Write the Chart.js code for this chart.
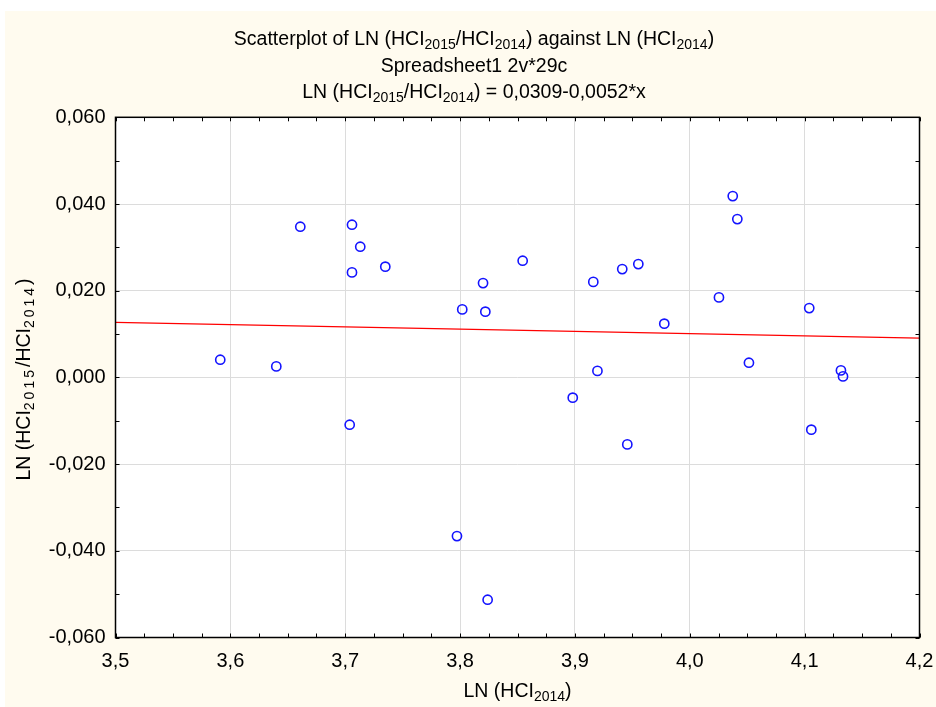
<!DOCTYPE html>
<html><head><meta charset="utf-8">
<script src="https://cdn.jsdelivr.net/npm/chart.js@4.4.1/dist/chart.umd.min.js"></script>
<style>html,body{margin:0;padding:0;background:#fff;}#wrap{width:936px;height:707px;}</style>
</head><body><div id="wrap"><canvas id="c" width="936" height="707"></canvas></div>
<script>
const xValues = [3.5912,3.6400,3.6609,3.7059,3.7131,3.7059,3.7349,3.7039,3.8019,3.8200,3.8220,3.8545,3.7973,3.8240,3.8981,3.9160,3.9196,3.9412,3.9552,3.9456,3.9778,4.0254,4.0374,4.0414,4.0515,4.1040,4.1058,4.1316,4.1334];
const yValues = [0.00408,0.00254,0.03476,0.03522,0.03015,0.02422,0.02554,-0.01091,0.01569,0.02175,0.01516,0.02692,-0.03661,-0.05128,-0.00468,0.02203,0.00150,0.02498,0.02614,-0.01546,0.01239,0.01845,0.04182,0.03652,0.00339,0.01599,-0.01206,0.00161,0.00023];
const xTicks = [3.5,3.6,3.7,3.8,3.9,4.0,4.1,4.2];
const yTicks = [-0.06,-0.04,-0.02,0,0.02,0.04,0.06];
const fitIntercept = 0.0309;
const fitSlope = -0.0052;
const fitX = [3.5, 4.2];
const title1 = [["Scatterplot of LN (HCI",0],["2015",1],["/HCI",0],["2014",1],[") against LN (HCI",0],["2014",1],[")",0]];
const title2 = [["Spreadsheet1 2v*29c",0]];
const title3 = [["LN (HCI",0],["2015",1],["/HCI",0],["2014",1],[") = 0,0309-0,0052*x",0]];
const xTitle = [["LN (HCI",0],["2014",1],[")",0]];
const yTitle = [["LN (HCI",0],["2015",1],["/HCI",0],["2014",1],[")",0]];

const FAM = "'Liberation Sans', Arial, sans-serif";
const MAIN = "19.5px " + FAM, SUB = "14px " + FAM;

function richWidth(ctx, segs, sp){
  let w = 0;
  for (const [t,s] of segs){
    ctx.font = s ? SUB : MAIN;
    if (s && sp){ for (const ch of t) w += ctx.measureText(ch).width + sp; }
    else w += ctx.measureText(t).width;
  }
  return w;
}
function drawRich(ctx, segs, cx, by, sp){
  const w = richWidth(ctx, segs, sp);
  let x = cx - w/2;
  ctx.textAlign = 'left'; ctx.textBaseline = 'alphabetic'; ctx.fillStyle = '#000';
  for (const [t,s] of segs){
    ctx.font = s ? SUB : MAIN;
    const yy = s ? by + 4 : by;
    if (s && sp){
      for (const ch of t){ ctx.fillText(ch, x, yy); x += ctx.measureText(ch).width + sp; }
    } else { ctx.fillText(t, x, yy); x += ctx.measureText(t).width; }
  }
}

const bgPlugin = {
  id:'bg',
  beforeDraw(chart){
    const {ctx, chartArea:a} = chart;
    ctx.save();
    ctx.fillStyle = '#ffffff'; ctx.fillRect(0,0,chart.width,chart.height);
    ctx.fillStyle = '#fffbef'; ctx.fillRect(5,11,chart.width-5,chart.height-11);
    ctx.fillStyle = '#ffffff'; ctx.fillRect(a.left,a.top,a.right-a.left,a.bottom-a.top);
    ctx.restore();
  }
};
const framePlugin = {
  id:'frame',
  afterDraw(chart){
    const {ctx, chartArea:a, scales} = chart;
    ctx.save();
    ctx.strokeStyle = '#000'; ctx.lineWidth = 1;
    ctx.beginPath();
    const L = 4;
    for (let i = 0; i <= 28; i++){
      const v = 3.5 + i*0.025;
      const px = Math.round(scales.x.getPixelForValue(v)) + 0.5;
      ctx.moveTo(px, a.bottom); ctx.lineTo(px, a.bottom - L);
      ctx.moveTo(px, a.top); ctx.lineTo(px, a.top + L);
    }
    for (let i = 0; i <= 12; i++){
      const v = -0.06 + i*0.01;
      const py = Math.round(scales.y.getPixelForValue(v)) + 0.5;
      ctx.moveTo(a.left, py); ctx.lineTo(a.left + L, py);
      ctx.moveTo(a.right, py); ctx.lineTo(a.right - L, py);
    }
    ctx.stroke();
    ctx.lineWidth = 1.5;
    ctx.strokeRect(a.left, a.top, a.right-a.left, a.bottom-a.top);
    drawRich(ctx, title1, 474, 45);
    drawRich(ctx, title2, 474, 71.5);
    drawRich(ctx, title3, 474, 98);
    drawRich(ctx, xTitle, (a.left+a.right)/2, 697);
    ctx.translate(30, 379.5); ctx.rotate(-Math.PI/2);
    drawRich(ctx, yTitle, 0, 0, 3);
    ctx.restore();
  }
};

const points = xValues.map((x,i)=>({x:x, y:yValues[i]}));
const fitPoints = fitX.map(x=>({x:x, y:fitIntercept + fitSlope*x}));

new Chart(document.getElementById('c').getContext('2d'), {
  type:'scatter',
  data:{datasets:[
    {data:points, pointRadius:4.6, pointBorderWidth:1.6, pointBorderColor:'#1414ff', pointBackgroundColor:'rgba(0,0,0,0)', borderColor:'#1414ff', backgroundColor:'rgba(0,0,0,0)', order:1},
    {data:fitPoints, showLine:true, pointRadius:0, borderColor:'#ff0000', borderWidth:1.3, fill:false, order:2}
  ]},
  options:{
    responsive:false, animation:false, devicePixelRatio:1,
    layout:{padding:{left:0, top:117.3, right:16.5, bottom:0}},
    plugins:{legend:{display:false}, title:{display:false}, tooltip:{enabled:false}},
    scales:{
      x:{type:'linear', min:3.5, max:4.2,
        afterBuildTicks:s=>{s.ticks = xTicks.map(v=>({value:v}));},
        afterFit:s=>{s.height = 69.5; s.paddingLeft = 0; s.paddingRight = 0;},
        grid:{color:'#dcdcdc', lineWidth:1, drawTicks:false},
        border:{display:false},
        ticks:{autoSkip:false, maxRotation:0, padding:12, color:'#000', font:{family:FAM, size:20},
          callback:v=>Number(v).toFixed(1).replace('.',',')}},
      y:{type:'linear', min:-0.06, max:0.06,
        afterBuildTicks:s=>{s.ticks = yTicks.map(v=>({value:v}));},
        afterFit:s=>{s.width = 115.5; s.paddingTop = 0; s.paddingBottom = 0;},
        grid:{color:'#dcdcdc', lineWidth:1, drawTicks:false},
        border:{display:false},
        ticks:{autoSkip:false, padding:10, color:'#000', font:{family:FAM, size:20},
          callback:v=>Number(v).toFixed(3).replace('.',',')}}
    }
  },
  plugins:[bgPlugin, framePlugin]
});
</script></body></html>
